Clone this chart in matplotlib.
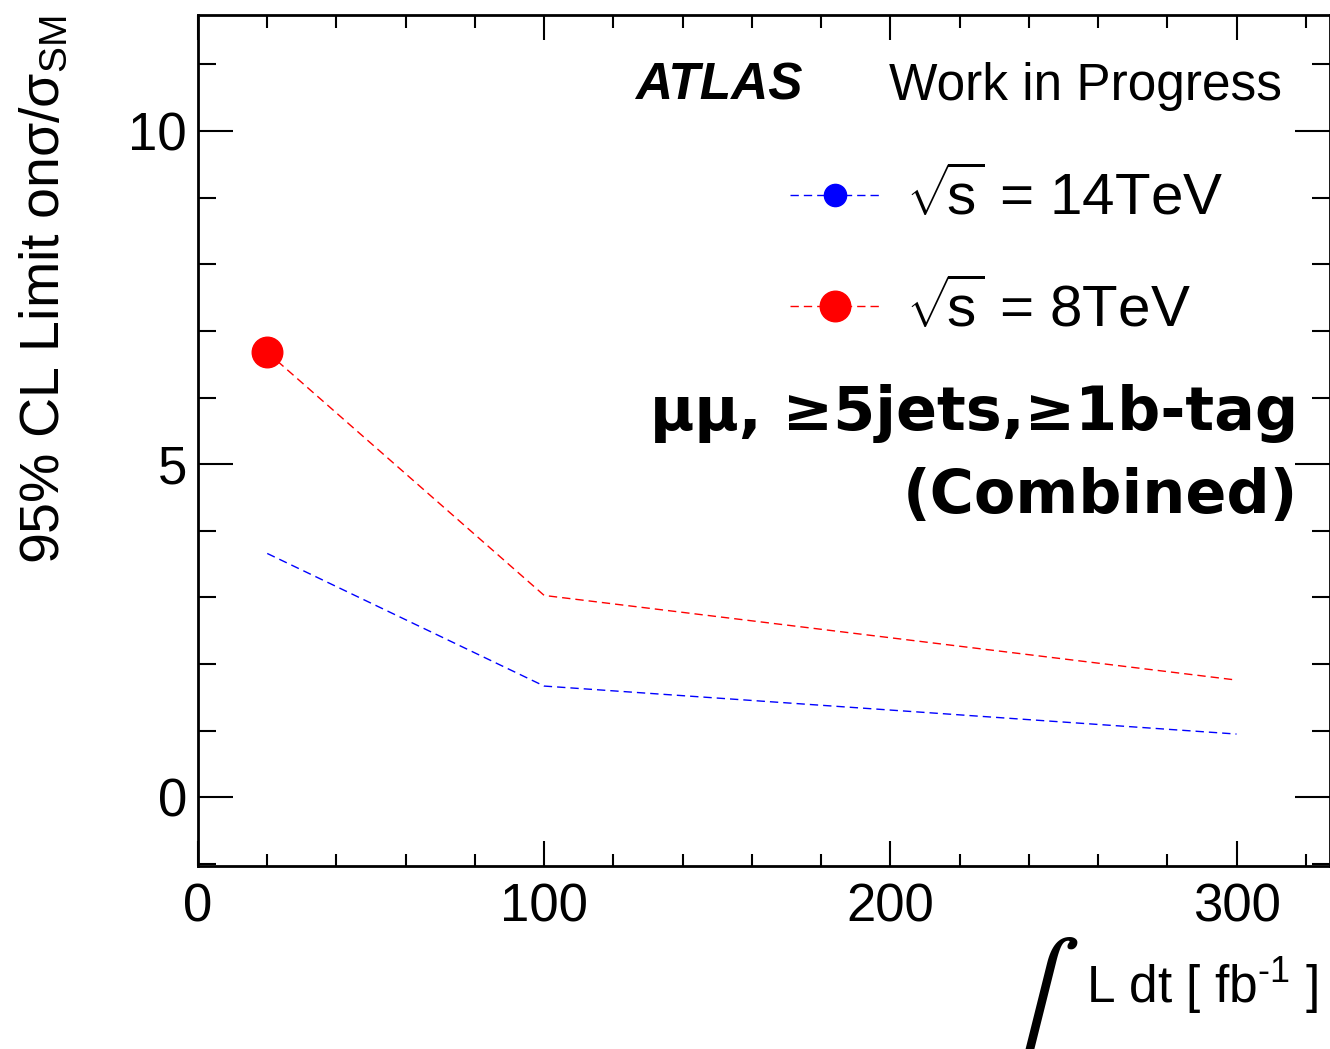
import numpy as np
import matplotlib as mpl
mpl.use('Agg')
import matplotlib.pyplot as plt
from matplotlib.lines import Line2D
from matplotlib.ticker import MultipleLocator

lumi = [20, 100, 300]
limit_14tev = [3.66, 1.67, 0.95]
limit_8tev = [6.68, 3.03, 1.76]
marker_x = [20]
marker_y = [6.68]

legend_labels = [r'$\sqrt{\!\mathrm{s}}$ = 14TeV', r'$\sqrt{\!\mathrm{s}}$ = 8TeV']

mpl.rcParams['font.family'] = 'Liberation Sans'
mpl.rcParams['mathtext.fontset'] = 'custom'
mpl.rcParams['mathtext.rm'] = 'Liberation Sans'
mpl.rcParams['mathtext.it'] = 'Liberation Sans:italic'
mpl.rcParams['mathtext.bf'] = 'Liberation Sans:bold'

W, H = 1330, 1049
fig = plt.figure(figsize=(W / 100, H / 100), dpi=100)
ax = fig.add_axes([198 / W, 183 / H, (W - 198) / W, (866 - 15) / H])

dash = (6, 3.6)
ax.plot(lumi, limit_14tev, color='blue', lw=1.0, dashes=dash)
ax.plot(lumi, limit_8tev, color='red', lw=1.0, dashes=dash)
ax.plot(marker_x, marker_y, 'o', color='red', ms=22, mec='red')

ax.set_xlim(0, 327)
ax.set_ylim(-1.03, 11.74)
ax.xaxis.set_major_locator(MultipleLocator(100))
ax.xaxis.set_minor_locator(MultipleLocator(20))
ax.yaxis.set_major_locator(MultipleLocator(5))
ax.yaxis.set_minor_locator(MultipleLocator(1))
for s in ax.spines.values():
    s.set_linewidth(2)
ax.tick_params(which='both', direction='in', top=True, right=True, width=1.5)
ax.tick_params(axis='y', which='major', length=25, labelsize=38, pad=8)
ax.tick_params(axis='y', which='minor', length=13)
ax.tick_params(axis='x', which='major', length=18, labelsize=38, pad=12)
ax.tick_params(axis='x', which='minor', length=9)

handles = [
    Line2D([], [], color='blue', lw=1.0, dashes=dash, marker='o', ms=16),
    Line2D([], [], color='red', lw=1.0, dashes=dash, marker='o', ms=22),
]
ax.legend(handles, legend_labels, loc='upper left', bbox_to_anchor=(790 / W, 1 - 169 / H),
          bbox_transform=fig.transFigure, frameon=False, fontsize=42,
          handlelength=1.54, handletextpad=0.45, labelspacing=0.9, borderpad=0,
          borderaxespad=0)

fig.text(635 / W, 1 - 100 / H, 'ATLAS', fontsize=37, fontweight='bold',
         fontstyle='italic', ha='left', va='baseline')
fig.text(1282 / W, 1 - 100 / H, 'Work in Progress', fontsize=37,
         ha='right', va='baseline')
fig.text(1298 / W, 1 - 430 / H, 'μμ, ≥5jets,≥1b-tag', fontsize=43.5,
         fontweight='bold', family='DejaVu Sans', ha='right', va='baseline')
fig.text(1298 / W, 1 - 513 / H, '(Combined)', fontsize=43.5,
         fontweight='bold', family='DejaVu Sans', ha='right', va='baseline')

fig.text(45 / W, 1 - 15 / H, r'95% CL Limit onσ/σ$_{\mathrm{SM}}$', fontsize=40,
         rotation=90, ha='center', va='top')
fig.text(1318 / W, 1 - 1003 / H, 'L dt [ fb$^{\u20101}$ ]', fontsize=37,
         ha='right', va='baseline')
fig.text(1039 / W, 1 - 1005 / H, r'$\int$', fontsize=86, math_fontfamily='stix',
         ha='center', va='center')

fig.savefig('out.png', dpi=100)
